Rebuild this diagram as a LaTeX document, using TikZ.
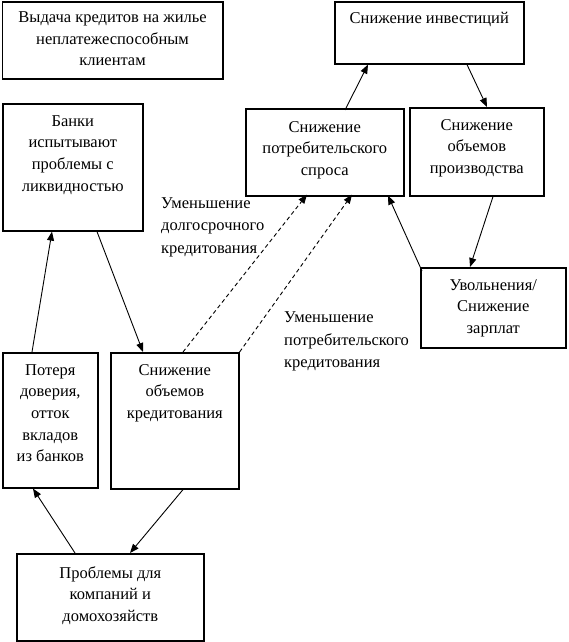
\documentclass[tikz,border=0pt]{standalone}
\usepackage{fontspec}
\setmainfont{Liberation Serif}
\usetikzlibrary{arrows.meta}
\begin{document}
\begin{tikzpicture}[x=1pt,y=-1pt,
  box/.style={draw=black, line width=1.6pt, anchor=north west, inner sep=0pt},
  txt/.style={anchor=north, align=center, inner sep=0pt, font=\fontsize{16.5}{21.7}\selectfont},
  lbl/.style={anchor=north west, align=left, inner sep=0pt, font=\fontsize{16.5}{22.5}\selectfont},
  arr/.style={line width=0.9pt, -{Triangle[length=9pt,width=7pt]}},
  darr/.style={arr, dash pattern=on 4pt off 3pt}]
\useasboundingbox (0,0) rectangle (569,642);
% boxes
\node[box, minimum width=220.5pt, minimum height=76.5pt] (A) at (1.5,1.5) {};
\node[box, minimum width=140pt, minimum height=127pt] (B) at (2,103) {};
\node[box, minimum width=95pt, minimum height=135pt] (C) at (2,352) {};
\node[box, minimum width=128pt, minimum height=136pt] (D) at (110,352) {};
\node[box, minimum width=187pt, minimum height=87pt] (E) at (16,553) {};
\node[box, minimum width=189pt, minimum height=61.5pt] (F) at (334,1.5) {};
\node[box, minimum width=158pt, minimum height=87pt] (G) at (245,108) {};
\node[box, minimum width=134pt, minimum height=88pt] (H) at (409,107) {};
\node[box, minimum width=145pt, minimum height=80pt] (I) at (420,267) {};
% texts
\node[txt] (At) at ([yshift=-10pt]A.north) {Выдача кредитов на жилье\\неплатежеспособным\\клиентам};
\node[txt] (Bt) at ([yshift=-12pt]B.north) {Банки\\испытывают\\проблемы с\\ликвидностью};
\node[txt] (Ct) at ([yshift=-12pt]C.north) {Потеря\\доверия,\\отток\\вкладов\\из банков};
\node[txt] (Dt) at ([yshift=-12pt]D.north) {Снижение\\объемов\\кредитования};
\node[txt] (Et) at ([yshift=-13pt]E.north) {Проблемы для\\компаний и\\домохозяйств};
\node[txt] (Ft) at ([yshift=-11pt]F.north) {Снижение инвестиций};
\node[txt] (Gt) at ([yshift=-13pt]G.north) {Снижение\\потребительского\\спроса};
\node[txt] (Ht) at ([yshift=-12pt]H.north) {Снижение\\объемов\\производства};
\node[txt] (It) at ([yshift=-12pt]I.north) {Увольнения/\\Снижение\\зарплат};
% labels
\node[lbl] (L1) at (161,197) {Уменьшение\\долгосрочного\\кредитования};
\node[lbl] (L2) at (284,311.5) {Уменьшение\\потребительского\\кредитования};
% arrows
\draw[arr] ([xshift=100pt,yshift=-2pt]G.north west) -- ([xshift=34pt]F.south west);
\draw[arr] ([xshift=133pt]F.south west) -- ([xshift=78pt]H.north west);
\draw[arr] ([xshift=84pt]H.south west) -- ([xshift=50pt]I.north west);
\draw[arr] ([xshift=2pt,yshift=-4pt]I.north west) -- ([xshift=143pt,yshift=1pt]G.south west);
\draw[arr] ([xshift=95pt]B.south west) -- ([xshift=33pt]D.north west);
\draw[arr] ([xshift=30pt]C.north west) -- ([xshift=50pt]B.south west);
\draw[arr] ([xshift=59pt]E.north west) -- ([xshift=31pt]C.south west);
\draw[arr] ([xshift=73pt]D.south west) -- ([xshift=114pt]E.north west);
\draw[darr] ([xshift=73pt]D.north west) -- ([xshift=62pt,yshift=2pt]G.south west);
\draw[darr] (D.north east) -- ([xshift=107pt,yshift=2pt]G.south west);
\end{tikzpicture}
\end{document}
